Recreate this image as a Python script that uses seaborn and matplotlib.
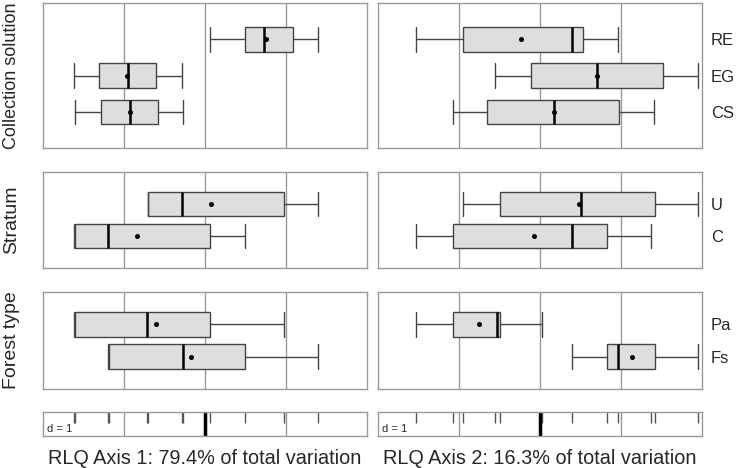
import numpy as np
import pandas as pd
import seaborn as sns
import matplotlib.pyplot as plt

# five-number summaries per group: [whisker low, Q1, median, Q3, whisker high]
cs_labels = ["RE", "EG", "CS"]
cs_axis1 = [[0.06, 0.49, 0.73, 1.09, 1.40],
            [-1.62, -1.31, -0.95, -0.60, -0.29],
            [-1.61, -1.29, -0.93, -0.58, -0.27]]
cs_mean1 = [0.75, -0.96, -0.93]
cs_axis2 = [[-1.53, -0.95, 0.39, 0.53, 0.96],
            [-0.55, -0.11, 0.70, 1.52, 1.95],
            [-1.08, -0.65, 0.17, 0.98, 1.41]]
cs_mean2 = [-0.24, 0.70, 0.17]

strat_labels = ["U", "C"]
strat_axis1 = [[-0.70, -0.70, -0.28, 0.98, 1.40],
               [-1.62, -1.61, -1.20, 0.06, 0.49]]
strat_mean1 = [0.07, -0.84]
strat_axis2 = [[-0.95, -0.50, 0.50, 1.42, 1.95],
               [-1.53, -1.08, 0.39, 0.83, 1.37]]
strat_mean2 = [0.48, -0.07]

forest_labels = ["Pa", "Fs"]
forest_axis1 = [[-1.62, -1.61, -0.71, 0.06, 0.98],
                [-1.20, -1.18, -0.27, 0.49, 1.40]]
forest_mean1 = [-0.61, -0.17]
forest_axis2 = [[-1.53, -1.08, -0.53, -0.50, 0.03],
                [0.39, 0.83, 0.96, 1.42, 1.95]]
forest_mean2 = [-0.75, 1.14]

# site scores shown in the bottom strip
sites_axis1 = [-1.62, -1.61, -1.20, -1.18, -0.71, -0.70, -0.28, -0.27, 0.06, 0.49, 0.98, 1.40]
sites_axis2 = [-1.53, -1.08, -0.95, -0.55, -0.50, 0.03, 0.39, 0.83, 0.96, 1.37, 1.42, 1.95]

row_titles = ["Collection solution", "Stratum", "Forest type"]
axis_titles = ["RLQ Axis 1: 79.4% of total variation", "RLQ Axis 2: 16.3% of total variation"]

rows = [
    (cs_labels, [(cs_axis1, cs_mean1), (cs_axis2, cs_mean2)]),
    (strat_labels, [(strat_axis1, strat_mean1), (strat_axis2, strat_mean2)]),
    (forest_labels, [(forest_axis1, forest_mean1), (forest_axis2, forest_mean2)]),
]

sns.set_style("white")
plt.rcParams["font.family"] = ["Liberation Sans", "DejaVu Sans"]

W, H = 740, 468
fig = plt.figure(figsize=(W / 100, H / 100), dpi=100)

col_x = [(43, 367), (378, 702)]
row_y = [(3, 148), (172, 268), (292, 389)]
strip_y = (412, 436)
grid_col = "#9a9a9a"


def rect(x0, x1, y0, y1):
    return [x0 / W, 1 - y1 / H, (x1 - x0) / W, (y1 - y0) / H]


def style_panel(ax):
    ax.set_xlim(-2, 2)
    ax.set_xticks([-1, 0, 1])
    ax.grid(axis="x", color=grid_col, lw=1)
    ax.grid(axis="y", visible=False)
    ax.set_axisbelow(True)
    ax.tick_params(axis="x", bottom=False, labelbottom=False)
    for s in ax.spines.values():
        s.set_color(grid_col)
        s.set_linewidth(1)
    ax.set_xlabel("")
    ax.set_ylabel("")


for r, (labels, cols) in enumerate(rows):
    y0, y1 = row_y[r]
    n = len(labels)
    px_per_unit = (y1 - y0) / (n + 1)
    for c, (summ, means) in enumerate(cols):
        ax = fig.add_axes(rect(col_x[c][0], col_x[c][1], y0, y1))
        df = pd.DataFrame({"group": np.repeat(labels, 5),
                           "score": np.concatenate(summ)})
        sns.boxplot(data=df, x="score", y="group", order=labels, orient="h",
                    whis=(0, 100), width=24.5 / px_per_unit, color="#dedede",
                    saturation=1, linecolor="#454545", linewidth=1,
                    medianprops=dict(color="black", linewidth=1.8),
                    capwidths=24.5 / px_per_unit, ax=ax)
        sns.stripplot(x=means, y=labels, order=labels, orient="h", jitter=False,
                      color="black", size=3.6, ax=ax)
        style_panel(ax)
        ax.set_ylim(n, -1)
        if c == 0:
            ax.tick_params(axis="y", left=False, labelleft=False)
        else:
            ax.tick_params(axis="y", left=False, right=False, labelleft=False,
                           labelright=True, labelsize=12, pad=3)
    fs = 13 if r == 0 else 14
    fig.text(12 / W, 1 - (y0 + y1) / 2 / H, row_titles[r], rotation=90,
             ha="center", va="center", fontsize=fs)

for c, sites in enumerate([sites_axis1, sites_axis2]):
    ax = fig.add_axes(rect(col_x[c][0], col_x[c][1], strip_y[0], strip_y[1]))
    style_panel(ax)
    ax.set_ylim(0, 1)
    ax.set_yticks([])
    ax.vlines(sites, 0.55, 1, color="#555555", lw=1)
    ax.axvline(0, color="black", lw=2.5)
    ax.text(0.012, 0.3, "d = 1", transform=ax.transAxes, fontsize=8,
            ha="left", va="center")
    fig.text((col_x[c][0] + col_x[c][1]) / 2 / W, 1 - 458 / H, axis_titles[c],
             ha="center", va="center", fontsize=14.3)

fig.savefig("out.png", dpi=100)
